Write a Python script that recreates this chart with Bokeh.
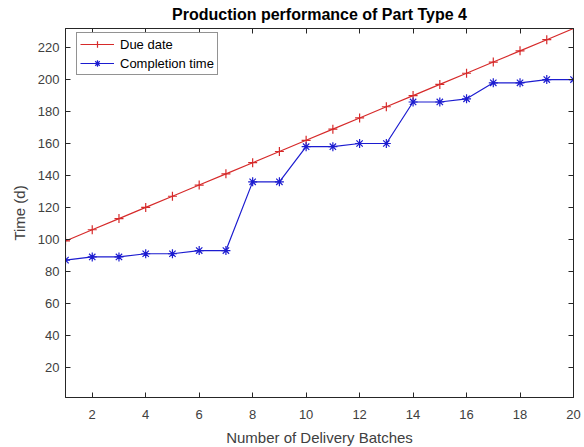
from bokeh.plotting import figure
from bokeh.models import Range1d, LinearAxis, FixedTicker, Legend, LegendItem
from bokeh.embed import file_html
from bokeh.resources import INLINE

batches = list(range(1, 21))
due_date = [99, 106, 113, 120, 127, 134, 141, 148, 155, 162,
            169, 176, 183, 190, 197, 204, 211, 218, 225, 232]
completion = [87, 89, 89, 91, 91, 93, 93, 136, 136, 158,
              158, 160, 160, 186, 186, 188, 198, 198, 200, 200]
x_ticks = [2, 4, 6, 8, 10, 12, 14, 16, 18, 20]
y_ticks = [20, 40, 60, 80, 100, 120, 140, 160, 180, 200, 220]

FONT = "Liberation Sans"
AX = "#262626"
RED = "#d62a2a"
BLUE = "#1c1cd0"

p = figure(frame_width=508, frame_height=369, output_backend="svg",
           toolbar_location=None, x_range=Range1d(1, 20), y_range=Range1d(1, 232),
           min_border_left=65, min_border_right=11, min_border_top=28, min_border_bottom=50,
           title="Production performance of Part Type 4")
p.title.align = "center"
p.title.vertical_align = "top"
p.title.text_font = FONT
p.title.text_font_size = "16px"
p.title.text_font_style = "bold"
p.title.text_color = "#000000"
p.title.standoff = 8
p.title.offset = 0
p.grid.visible = False
p.outline_line_color = AX
p.outline_line_width = 1
p.background_fill_color = "white"
p.border_fill_color = "white"

def style(ax, ticks, labels=True):
    ax.ticker = FixedTicker(ticks=ticks)
    ax.minor_tick_line_color = None
    ax.major_tick_in = 5
    ax.major_tick_out = 0
    ax.axis_line_color = AX
    ax.major_tick_line_color = AX
    ax.major_label_text_font = FONT
    ax.major_label_text_font_size = "13px"
    ax.major_label_text_color = "#404040" if labels else None
    ax.axis_label_text_font = FONT
    ax.axis_label_text_font_size = "15px"
    ax.axis_label_text_font_style = "normal"
    ax.axis_label_text_color = "#404040"
    if not labels:
        ax.major_label_standoff = 0

style(p.xaxis[0], x_ticks)
style(p.yaxis[0], y_ticks)
p.xaxis[0].axis_label = "Number of Delivery Batches"
p.yaxis[0].axis_label = "Time (d)"
p.xaxis[0].major_label_standoff = 12
p.yaxis[0].major_label_standoff = 6
p.xaxis[0].axis_label_standoff = 7
p.yaxis[0].axis_label_standoff = 7

top = LinearAxis()
style(top, x_ticks, labels=False)
p.add_layout(top, "above")
right = LinearAxis()
style(right, y_ticks, labels=False)
p.add_layout(right, "right")

r1 = p.line(batches, due_date, line_color=RED, line_width=1.2)
m1 = p.scatter(batches, due_date, marker="cross", size=9, line_color=RED, line_width=1.2)
r2 = p.line(batches, completion, line_color=BLUE, line_width=1.2)
m2 = p.scatter(batches, completion, marker="asterisk", size=9, line_color=BLUE, line_width=1.2)

legend = Legend(items=[LegendItem(label="Due date", renderers=[r1, m1]),
                       LegendItem(label="Completion time", renderers=[r2, m2])],
                location=(11, 322))
legend.label_text_font = FONT
legend.label_text_font_size = "13px"
legend.label_text_color = "#000000"
legend.border_line_color = AX
legend.border_line_width = 1
legend.glyph_width = 34
legend.glyph_height = 16
legend.label_height = 16
legend.spacing = 3
legend.padding = 3
legend.margin = 0
legend.label_standoff = 6
p.add_layout(legend, "center")

open("out.html", "w").write(file_html(p, INLINE))
